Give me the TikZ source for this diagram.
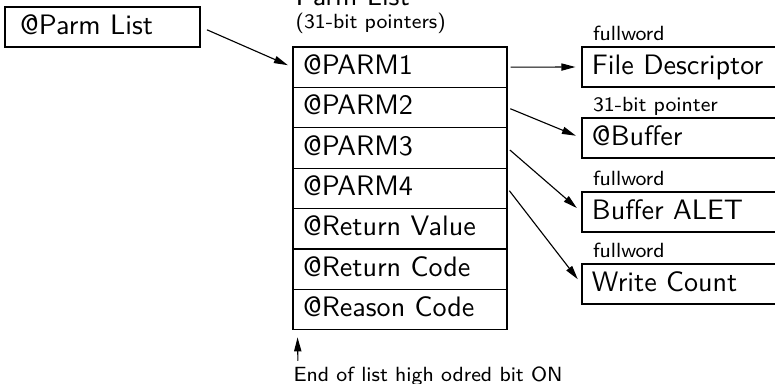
\documentclass[tikz,border=0pt]{standalone}
\usetikzlibrary{arrows.meta}

\begin{document}
\begin{tikzpicture}[
  font=\sffamily,
  box/.style={draw, minimum height=5mm, inner xsep=1.25mm, inner ysep=0pt, align=left, text height=0.72em, text depth=0.22em},
  cell/.style={box, text width=24.25mm, minimum height=5.05mm},
  target/.style={box, text width=22mm},
  tag/.style={font=\sffamily\fontsize{7.3}{8.5}\selectfont, inner sep=0pt, anchor=base west},
  line/.style={-{Triangle[length=1.75mm,width=0.9mm]}, shorten <=0.375mm, shorten >=0.75mm}
]
\useasboundingbox (0,0) rectangle (96.875mm,-48mm);

\node[box, inner xsep=1.9mm, text width=20.575mm] (parm) at (12.8125mm,-3.375mm) {@Parm List};

\node[anchor=base west, inner sep=0pt] (title) at (36.875mm,-0.75mm) {Parm List};
\node[tag] (subtitle) at (36.875mm,-3.625mm) {(31-bit pointers)};

\node[cell] (p1)  at (50mm,-8.4mm)  {@PARM1};
\node[cell] (p2)  at (50mm,-13.45mm) {@PARM2};
\node[cell] (p3)  at (50mm,-18.5mm) {@PARM3};
\node[cell] (p4)  at (50mm,-23.55mm) {@PARM4};
\node[cell] (rv)  at (50mm,-28.6mm) {@Return Value};
\node[cell] (rc)  at (50mm,-33.65mm) {@Return Code};
\node[cell] (rsn) at (50mm,-38.7mm) {@Reason Code};

\node[target] (fd)    at (85mm,-8.375mm) {File Descriptor};
\node[target] (buf)   at (85mm,-17.25mm) {@Buffer};
\node[target] (alet)  at (85mm,-26.5mm)  {Buffer ALET};
\node[target] (count) at (85mm,-35.5mm)  {Write Count};

\node[tag] (fdtag)    at ([shift={(1.375mm,0.8mm)}]fd.north west)    {fullword};
\node[tag] (buftag)   at ([shift={(1.375mm,0.8mm)}]buf.north west)   {31-bit pointer};
\node[tag] (alettag)  at ([shift={(1.375mm,0.8mm)}]alet.north west)  {fullword};
\node[tag] (counttag) at ([shift={(1.375mm,0.8mm)}]count.north west) {fullword};

\draw[line, shorten <=0.875mm, shorten >=0.625mm] (parm.east) -- (p1.west);
\draw[line] (p1.east) -- (fd.west);
\draw[line] (p2.east) -- (buf.west);
\draw[line] (p3.east) -- (alet.west);
\draw[line] (p4.east) -- (count.west);

\node[tag] (endnote) at (36.625mm,-47.75mm) {End of list high odred bit ON};
\draw[line, shorten <=0.75mm, shorten >=0.875mm] ([xshift=0.625mm]endnote.north west) -- ([xshift=0.625mm]rsn.south west);
\end{tikzpicture}
\end{document}
